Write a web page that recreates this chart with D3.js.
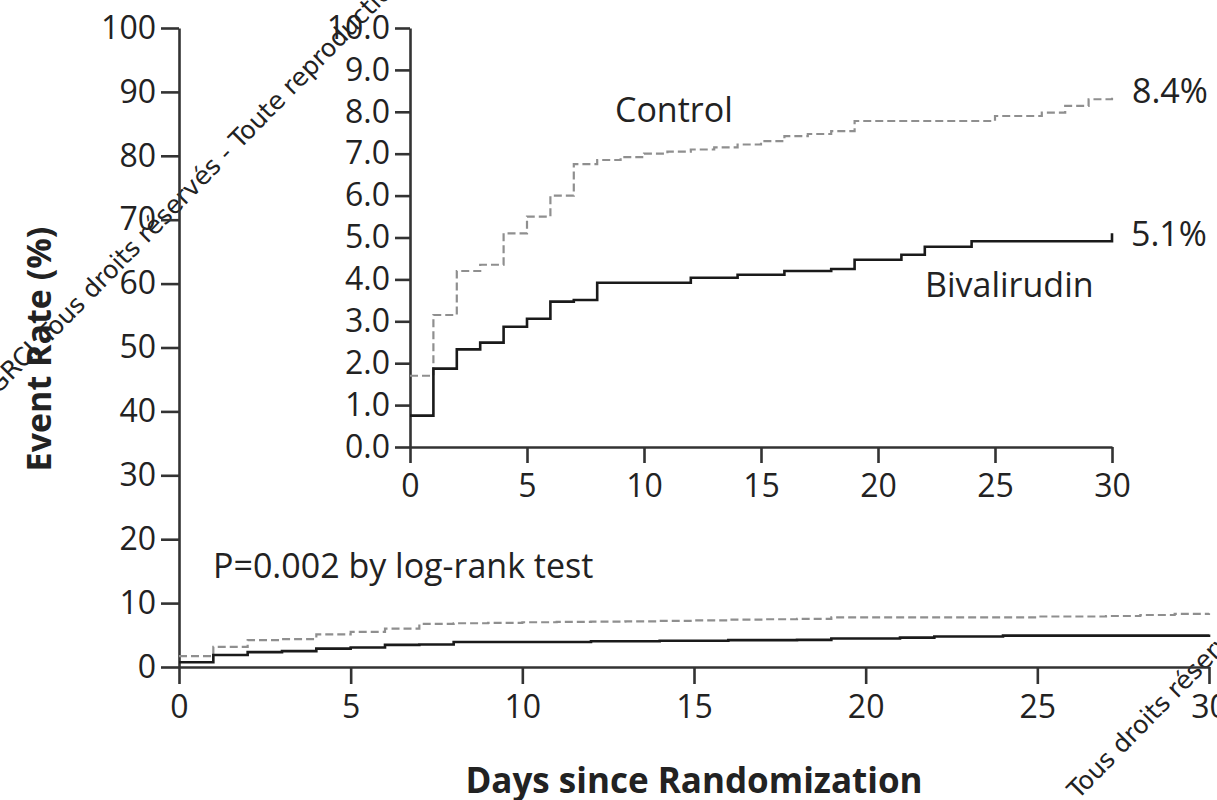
<!DOCTYPE html>
<html>
<head>
<meta charset="utf-8">
<script src="https://cdn.jsdelivr.net/npm/d3@7"></script>
<style>
  html, body { margin: 0; padding: 0; background: #fff; }
  svg { display: block; }
  text { font-family: "Open Sans", "Noto Sans", sans-serif; fill: #222; }
</style>
</head>
<body>
<svg id="chart" width="1217" height="800"></svg>
<script>
// Kaplan-Meier style cumulative event rates (%) by day since randomization
const controlDays  = [0, 1, 2, 3, 4, 5, 6, 7, 8, 9, 10, 11, 12, 13, 14, 15, 16, 17, 18, 19, 25, 27, 28, 29, 30];
const controlRates = [1.7, 3.15, 4.2, 4.35, 5.1, 5.5, 6.0, 6.75, 6.85, 6.92, 7.0, 7.05, 7.1, 7.15, 7.22, 7.3, 7.42, 7.47, 7.54, 7.78, 7.9, 7.98, 8.14, 8.3, 8.4];

const bivalDays  = [0, 1, 2, 3, 4, 5, 6, 7, 8, 12, 14, 16, 18, 19, 21, 22, 24, 30];
const bivalRates = [0.75, 1.87, 2.33, 2.49, 2.87, 3.06, 3.47, 3.51, 3.92, 4.04, 4.11, 4.2, 4.25, 4.47, 4.59, 4.78, 4.91, 5.1];

const mainYTicks  = [0, 10, 20, 30, 40, 50, 60, 70, 80, 90, 100];
const insetYTicks = [0, 1, 2, 3, 4, 5, 6, 7, 8, 9, 10];
const dayTicks    = [0, 5, 10, 15, 20, 25, 30];

const finalLabels = ["8.4%", "5.1%"];

const svg = d3.select("#chart");
const axisColor = "#333";
const tickFont = 32;
const labelFont = 34;

// ---- scales ----
const xMain = d3.scaleLinear().domain([0, 30]).range([179, 1209]);
const yMain = d3.scaleLinear().domain([0, 100]).range([667, 28]);
const xIn   = d3.scaleLinear().domain([0, 30]).range([410, 1112]);
const yIn   = d3.scaleLinear().domain([0, 10]).range([447, 28]);

const pairs = (xs, ys) => xs.map((d, i) => [d, ys[i]]);
const controlPts = pairs(controlDays, controlRates);
const bivalPts   = pairs(bivalDays, bivalRates);

function styleAxis(g, fontSize) {
  g.select(".domain").attr("stroke", axisColor).attr("stroke-width", 2.6);
  g.selectAll(".tick line").attr("stroke", axisColor).attr("stroke-width", 2.6);
  g.selectAll(".tick text")
    .attr("fill", "#222")
    .style("font-family", '"Open Sans", "Noto Sans", sans-serif')
    .style("font-size", fontSize + "px");
}

// ---- copyright notices running diagonally ----
const notice = svg.append("g");
function noticeText(x, y, anchor, str) {
  notice.append("text")
    .attr("transform", `translate(${x},${y}) rotate(-45.5)`)
    .attr("text-anchor", anchor)
    .attr("fill", "#333")
    .style("font-family", '"DejaVu Sans", sans-serif')
    .style("font-size", "25px")
    .text(str);
}
noticeText(48, 345, "start", "Tous droits réservés - Toute reproduction");
noticeText(40, 352, "end", "© GRCI");
noticeText(1078, 800, "start", "Tous droits réservés");

// ---- main panel axes ----
const gMainY = svg.append("g")
  .attr("transform", `translate(${xMain(0)},0)`)
  .call(d3.axisLeft(yMain).tickValues(mainYTicks).tickSize(18).tickSizeOuter(0).tickPadding(5));
styleAxis(gMainY, tickFont);

const gMainX = svg.append("g")
  .attr("transform", `translate(0,${yMain(0)})`)
  .call(d3.axisBottom(xMain).tickValues(dayTicks).tickSize(17).tickSizeOuter(0).tickPadding(11));
styleAxis(gMainX, tickFont);

// ---- inset axes ----
const gInY = svg.append("g")
  .attr("transform", `translate(${xIn(0)},0)`)
  .call(d3.axisLeft(yIn).tickValues(insetYTicks).tickFormat(d3.format(".1f")).tickSize(15).tickSizeOuter(0).tickPadding(5));
styleAxis(gInY, tickFont);

const gInX = svg.append("g")
  .attr("transform", `translate(0,${yIn(0)})`)
  .call(d3.axisBottom(xIn).tickValues(dayTicks).tickSize(16).tickSizeOuter(0).tickPadding(11));
styleAxis(gInX, tickFont);

// ---- survival curves ----
function drawCurves(xs, ys) {
  const line = d3.line().x(d => xs(d[0])).y(d => ys(d[1])).curve(d3.curveStepAfter);
  svg.append("path").datum(controlPts)
    .attr("d", line).attr("fill", "none")
    .attr("stroke", "#8f8f8f").attr("stroke-width", 2.2)
    .attr("stroke-dasharray", "8,4");
  svg.append("path").datum(bivalPts)
    .attr("d", line).attr("fill", "none")
    .attr("stroke", "#1a1a1a").attr("stroke-width", 2.6);
}
drawCurves(xMain, yMain);
drawCurves(xIn, yIn);

// ---- annotations ----
const lab = svg.append("g").style("font-size", labelFont + "px");
lab.append("text").attr("x", 615).attr("y", 122).text("Control");
lab.append("text").attr("x", 925).attr("y", 297).text("Bivalirudin");
lab.append("text").attr("x", xIn(30) + 20).attr("y", yIn(controlRates[controlRates.length - 1]) + 8).text(finalLabels[0]);
lab.append("text").attr("x", xIn(30) + 19).attr("y", yIn(bivalRates[bivalRates.length - 1]) + 13).text(finalLabels[1]);
lab.append("text").attr("x", 213).attr("y", 578).text("P=0.002 by log-rank test");

// ---- axis titles ----
svg.append("text")
  .attr("transform", "translate(51,349) rotate(-90)")
  .attr("text-anchor", "middle")
  .style("font-size", "34px").style("font-weight", "bold")
  .text("Event Rate (%)");
svg.append("text")
  .attr("x", 694).attr("y", 793)
  .attr("text-anchor", "middle")
  .style("font-size", "35px").style("font-weight", "bold")
  .text("Days since Randomization");
</script>
</body>
</html>
